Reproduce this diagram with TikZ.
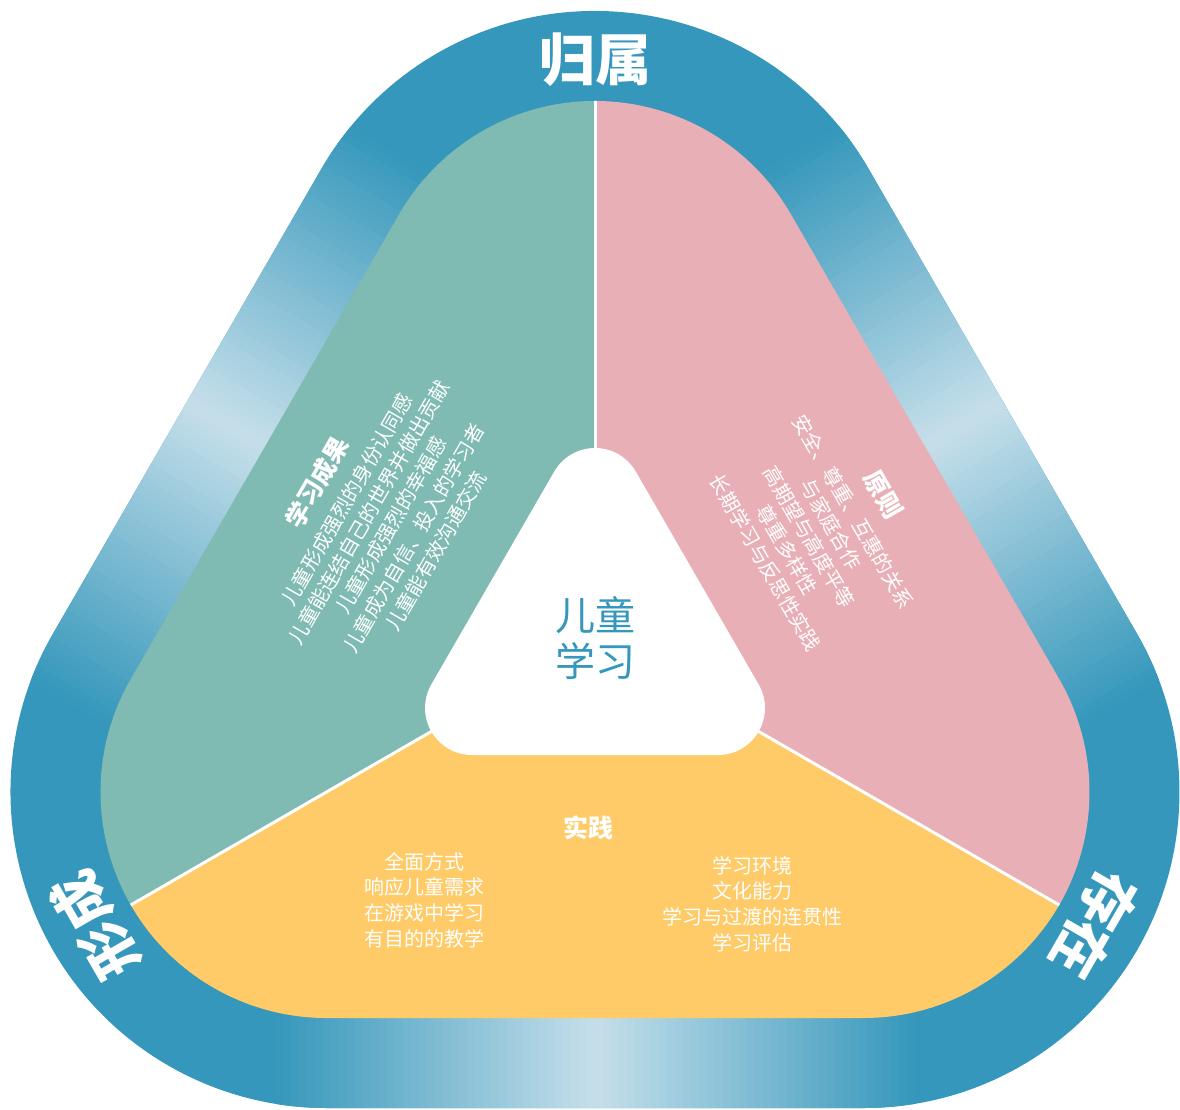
\documentclass[tikz,border=0pt]{standalone}
\usepackage{fontspec}
\newfontfamily\cjk{Noto Sans CJK SC}
\usetikzlibrary{calc}
\definecolor{band}{HTML}{3597BB}
\definecolor{bandlight}{HTML}{C6DFEA}
\definecolor{secteal}{HTML}{7FBBB2}
\definecolor{secpink}{HTML}{E8B0B6}
\definecolor{secyellow}{HTML}{FECB68}
\newcommand\rtri[2]{($(90:#1)+(30:#2)$) arc[start angle=30,end angle=150,radius=#2] -- ($(210:#1)+(150:#2)$) arc[start angle=150,end angle=270,radius=#2] -- ($(330:#1)+(270:#2)$) arc[start angle=270,end angle=390,radius=#2] -- cycle}
\tikzset{
  bandlabel/.style={text=white, font=\cjk\bfseries\fontsize{56}{60}\selectfont, inner sep=0pt},
  bodytext/.style={text=white, align=center, inner sep=0pt, font=\cjk\fontsize{20}{25.6}\selectfont},
  divider/.style={draw=white, line width=3pt},
}
\newcommand\ttl[1]{{\bfseries\fontsize{25}{28}\selectfont #1}}
\begin{document}
\begin{tikzpicture}[x=1pt,y=1pt]
\useasboundingbox (-595,-472) rectangle (585,637);
% outer band
\fill[band] \rtri{310}{316};
\begin{scope}
  \clip \rtri{310}{316};
  \foreach \r in {0,120,240}{
    \begin{scope}[rotate=\r]
      \foreach \i in {0,...,79}{
        \pgfmathsetmacro\xa{-320+\i*8}
        \pgfmathsetmacro\m{abs(\i+0.5-40)/40*100}
        \fill[band!\m!bandlight] (\xa,-370) rectangle (\xa+8.6,-490);
      }
    \end{scope}
  }
\end{scope}
% inner sectors
\begin{scope}
  \clip \rtri{310}{226};
  \fill[secteal] (0,0) -- (90:1000) -- (150:1000) -- (210:1000) -- cycle;
  \fill[secyellow] (0,0) -- (210:1000) -- (270:1000) -- (330:1000) -- cycle;
  \fill[secpink] (0,0) -- (330:1000) -- (30:1000) -- (90:1000) -- cycle;
  \coordinate (c) at (0,0);
  \coordinate (d1) at (90:700);
  \coordinate (d2) at (210:700);
  \coordinate (d3) at (330:700);
  \draw[divider] (c) -- (d1);
  \draw[divider] (c) -- (d2);
  \draw[divider] (c) -- (d3);
\end{scope}
% centre
\fill[white] \rtri{142}{47};
\node[text=band, align=center, inner sep=0pt, font=\cjk\fontsize{40}{46}\selectfont] (center) at (0,-1) {儿童\\学习};
% band labels
\node[bandlabel] (belong) at (90:577) {归属};
\node[bandlabel, rotate=120] (become) at (210:577) {形成};
\node[bandlabel, rotate=240] (being) at (330:577) {存在};
% sector texts
\node[bodytext, rotate=60] (outcomes) at (-220,121) {\ttl{学习成果}\\[7pt]儿童形成强烈的身份认同感\\儿童能连结自己的世界并做出贡献\\儿童形成强烈的幸福感\\儿童成为自信、投入的学习者\\儿童能有效沟通交流};
\node[bodytext, rotate=-60] (principles) at (230,109) {\ttl{原则}\\[7pt]安全、尊重、互惠的关系\\与家庭合作\\高期望与高度平等\\尊重多样性\\长期学习与反思性实践};
\node[bodytext] (practice) at (-7,-191) {\ttl{实践}};
\node[bodytext] (practiceL) at (-170,-263) {全面方式\\响应儿童需求\\在游戏中学习\\有目的的教学};
\node[bodytext] (practiceR) at (157,-267) {学习环境\\文化能力\\学习与过渡的连贯性\\学习评估};
\end{tikzpicture}
\end{document}
